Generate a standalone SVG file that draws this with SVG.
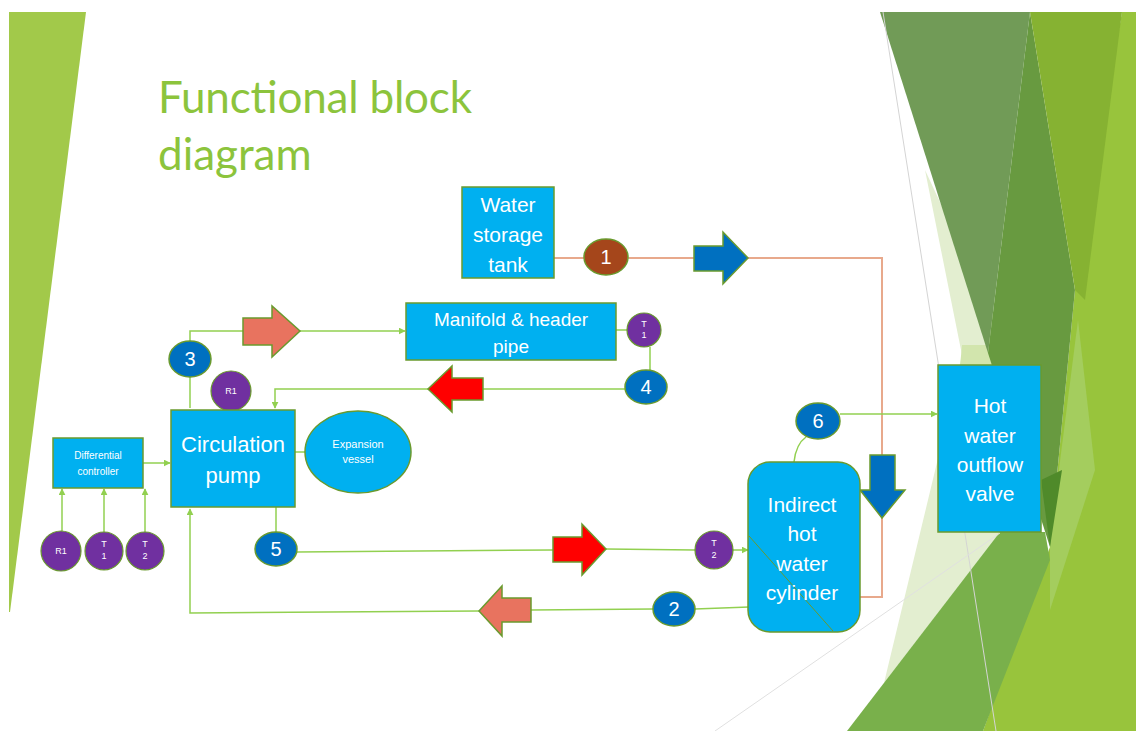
<svg xmlns="http://www.w3.org/2000/svg" width="1136" height="731" viewBox="0 0 1136 731">
<defs>
<style>
.node{fill:#00b0f0;stroke:#6a9a2e;stroke-width:1.5}
.lbl{fill:#fff;font-family:"Liberation Sans",Arial,sans-serif;text-anchor:middle}
.num{fill:#0070c0;stroke:#6a9a2e;stroke-width:1.5}
.pur{fill:#7030a0;stroke:#6a9a2e;stroke-width:1.2}
.con{fill:none;stroke:#92d050;stroke-width:1.5}
.hot{fill:none;stroke:#e8a98c;stroke-width:2}
.blk{stroke:#6a9a2e;stroke-width:1.5}
</style>
<marker id="ag" viewBox="0 0 10 10" refX="9" refY="5" markerWidth="7" markerHeight="7" orient="auto" markerUnits="userSpaceOnUse"><path d="M0,0 L10,5 L0,10 z" fill="#92d050"/></marker>
<marker id="ab" viewBox="0 0 10 10" refX="9" refY="5" markerWidth="8" markerHeight="8" orient="auto" markerUnits="userSpaceOnUse"><path d="M0,0 L10,5 L0,10 z" fill="#b0502a"/></marker>
</defs>
<rect width="1136" height="731" fill="#fff"/>
<g id="background">
<polygon points="9,12 86,12 10,612 9,612" fill="#a2c94a"/>
<polygon points="925,170 1000,330 1000,533 884,683 940,450 962,355" fill="#e3eed0"/>
<polygon points="962,345 995,345 1000,450 955,420" fill="#d2e5ad"/>
<polygon points="1122,12 1136,12 1136,731 983,731 1050,547 1075,290" fill="#98c43c"/>
<polygon points="1078,320 1095,470 1050,610 1050,540" fill="#a4cd5e"/>
<polygon points="880,12 1030,12 988,353" fill="#719b57"/>
<polygon points="1030,12 1075,290 1050,547 988,353" fill="#689a40"/>
<polygon points="1030,12 1122,12 1085,300 1075,290" fill="#86b232"/>
<polygon points="1041,480 1062,470 1050,547" fill="#4f8a2a"/>
<polygon points="847,731 1000,532 1045,532 1050,560 983,731" fill="#79b04b"/>
<line x1="883" y1="12" x2="996" y2="731" stroke="#d4d4d4" stroke-width="1"/>
<line x1="715" y1="731" x2="1000" y2="533" stroke="#e0e0e0" stroke-width="1"/>
</g>
<g id="title">
<text x="158" y="113" font-family="Lato,'Liberation Sans',sans-serif" font-size="44" fill="#8cc43c" textLength="314">Functional block</text>
<text x="158" y="170" font-family="Lato,'Liberation Sans',sans-serif" font-size="44" fill="#8cc43c">diagram</text>
</g>
<g id="connectors">
<polyline class="hot" points="554,258 584,258"/>
<polyline class="hot" points="628,258 694,258"/>
<polyline class="hot" points="748,258 882,258 882,597 853,597" marker-end="url(#ab)"/>
<line class="con" x1="616" y1="330" x2="627" y2="330"/>
<line class="con" x1="650" y1="347" x2="650" y2="370"/>
<line class="con" x1="625" y1="389" x2="483" y2="389"/>
<polyline class="con" points="428,389 275,389 275,408" marker-end="url(#ag)"/>
<line class="con" x1="190" y1="408" x2="190" y2="377"/>
<polyline class="con" points="190,341 190,331 243,331"/>
<line class="con" x1="300" y1="331" x2="405" y2="331" marker-end="url(#ag)"/>
<line class="con" x1="285" y1="452" x2="305" y2="452"/>
<line class="con" x1="143" y1="463" x2="170" y2="463" marker-end="url(#ag)"/>
<line class="con" x1="62" y1="531" x2="62" y2="489" marker-end="url(#ag)"/>
<line class="con" x1="104" y1="532" x2="104" y2="489" marker-end="url(#ag)"/>
<line class="con" x1="145" y1="532" x2="145" y2="489" marker-end="url(#ag)"/>
<line class="con" x1="276" y1="507" x2="276" y2="532"/>
<line class="con" x1="297" y1="552" x2="553" y2="550"/>
<line class="con" x1="606" y1="549" x2="695" y2="550"/>
<line class="con" x1="733" y1="550" x2="748" y2="550" marker-end="url(#ag)"/>
<line class="con" x1="749" y1="607" x2="695" y2="609"/>
<line class="con" x1="653" y1="609" x2="531" y2="610"/>
<polyline class="con" points="479,611 190,613 190,509" marker-end="url(#ag)"/>
<line class="con" x1="840" y1="414" x2="937" y2="414" marker-end="url(#ag)"/>
<path class="con" d="M794,462 Q796,444 806,437"/>
</g>
<g id="flow-arrows">
<polygon class="blk" fill="#0070c0" points="694,246 723,246 723,232 748,258 723,284 723,271 694,271"/>
<polygon class="blk" fill="#e8735f" points="243,318 272,318 272,306 300,331 272,357 272,345 243,345"/>
<polygon class="blk" fill="#ff0000" points="483,378 452,378 452,366 428,389 452,412 452,400 483,400"/>
<polygon class="blk" fill="#ff0000" points="553,537 582,537 582,524 606,549 582,575 582,562 553,562"/>
<polygon class="blk" fill="#e8735f" points="531,598 502,598 502,586 479,611 502,636 502,622 531,622"/>
<polygon class="blk" fill="#0070c0" points="870,455 895,455 895,490 905,490 882,518 860,490 870,490"/>
</g>
<g id="water-storage-tank">
<rect class="node" x="462" y="187" width="92" height="91"/>
<text class="lbl" font-size="21" x="508" y="212">Water</text>
<text class="lbl" font-size="21" x="508" y="242">storage</text>
<text class="lbl" font-size="21" x="508" y="272">tank</text>
</g>
<g id="n1">
<ellipse cx="606" cy="257" rx="22" ry="18" fill="#a5461b" stroke="#6a9a2e" stroke-width="1.5"/>
<text class="lbl" font-size="20" x="606" y="264">1</text>
</g>
<g id="manifold">
<rect class="node" x="406" y="303" width="210" height="57"/>
<text class="lbl" font-size="19" x="511" y="326">Manifold &amp; header</text>
<text class="lbl" font-size="19" x="511" y="353">pipe</text>
</g>
<g id="t1-top">
<circle class="pur" cx="644" cy="330" r="17"/>
<text class="lbl" font-size="9" x="644" y="327">T</text>
<text class="lbl" font-size="9" x="644" y="338">1</text>
</g>
<g id="n4">
<ellipse class="num" cx="646" cy="387" rx="21" ry="17"/>
<text class="lbl" font-size="20" x="646" y="394">4</text>
</g>
<g id="n3">
<ellipse class="num" cx="190" cy="359" rx="21" ry="18"/>
<text class="lbl" font-size="20" x="190" y="366">3</text>
</g>
<g id="r1-pump">
<circle class="pur" cx="231" cy="391" r="20"/>
<text class="lbl" font-size="9" x="231" y="394">R1</text>
</g>
<g id="circulation-pump">
<rect class="node" x="171" y="410" width="124" height="97"/>
<text class="lbl" font-size="22" x="233" y="452">Circulation</text>
<text class="lbl" font-size="22" x="233" y="483">pump</text>
</g>
<g id="expansion-vessel">
<ellipse class="node" cx="358" cy="452" rx="53" ry="41"/>
<text class="lbl" font-size="11" x="358" y="448">Expansion</text>
<text class="lbl" font-size="11" x="358" y="463">vessel</text>
</g>
<g id="differential-controller">
<rect class="node" x="53" y="438" width="90" height="50"/>
<text class="lbl" font-size="10" x="98" y="459">Differential</text>
<text class="lbl" font-size="10" x="98" y="475">controller</text>
</g>
<g id="r1-sensor">
<circle class="pur" cx="61" cy="551" r="20"/>
<text class="lbl" font-size="9" x="61" y="554">R1</text>
</g>
<g id="t1-sensor">
<circle class="pur" cx="104" cy="551" r="19"/>
<text class="lbl" font-size="9" x="104" y="547">T</text>
<text class="lbl" font-size="9" x="104" y="559">1</text>
</g>
<g id="t2-sensor">
<circle class="pur" cx="145" cy="551" r="19"/>
<text class="lbl" font-size="9" x="145" y="547">T</text>
<text class="lbl" font-size="9" x="145" y="559">2</text>
</g>
<g id="n5">
<ellipse class="num" cx="276" cy="549" rx="21" ry="17"/>
<text class="lbl" font-size="20" x="276" y="556">5</text>
</g>
<g id="t2-cyl">
<circle class="pur" cx="714" cy="550" r="19"/>
<text class="lbl" font-size="9" x="714" y="546">T</text>
<text class="lbl" font-size="9" x="714" y="558">2</text>
</g>
<g id="n2">
<ellipse class="num" cx="674" cy="609" rx="21" ry="17"/>
<text class="lbl" font-size="20" x="674" y="616">2</text>
</g>
<g id="indirect-cylinder">
<rect class="node" x="748" y="462" width="112" height="170" rx="22"/>
<line x1="749" y1="536" x2="833" y2="631" stroke="#6a9a2e" stroke-width="1"/>
<text class="lbl" font-size="21" x="802" y="512">Indirect</text>
<text class="lbl" font-size="21" x="802" y="541">hot</text>
<text class="lbl" font-size="21" x="802" y="571">water</text>
<text class="lbl" font-size="21" x="802" y="600">cylinder</text>
</g>
<g id="n6">
<ellipse class="num" cx="818" cy="421" rx="22" ry="18"/>
<text class="lbl" font-size="20" x="818" y="428">6</text>
</g>
<g id="hot-water-valve">
<rect class="node" x="938" y="365" width="103" height="167"/>
<text class="lbl" font-size="21" x="990" y="413">Hot</text>
<text class="lbl" font-size="21" x="990" y="443">water</text>
<text class="lbl" font-size="21" x="990" y="472">outflow</text>
<text class="lbl" font-size="21" x="990" y="501">valve</text>
</g>
</svg>
